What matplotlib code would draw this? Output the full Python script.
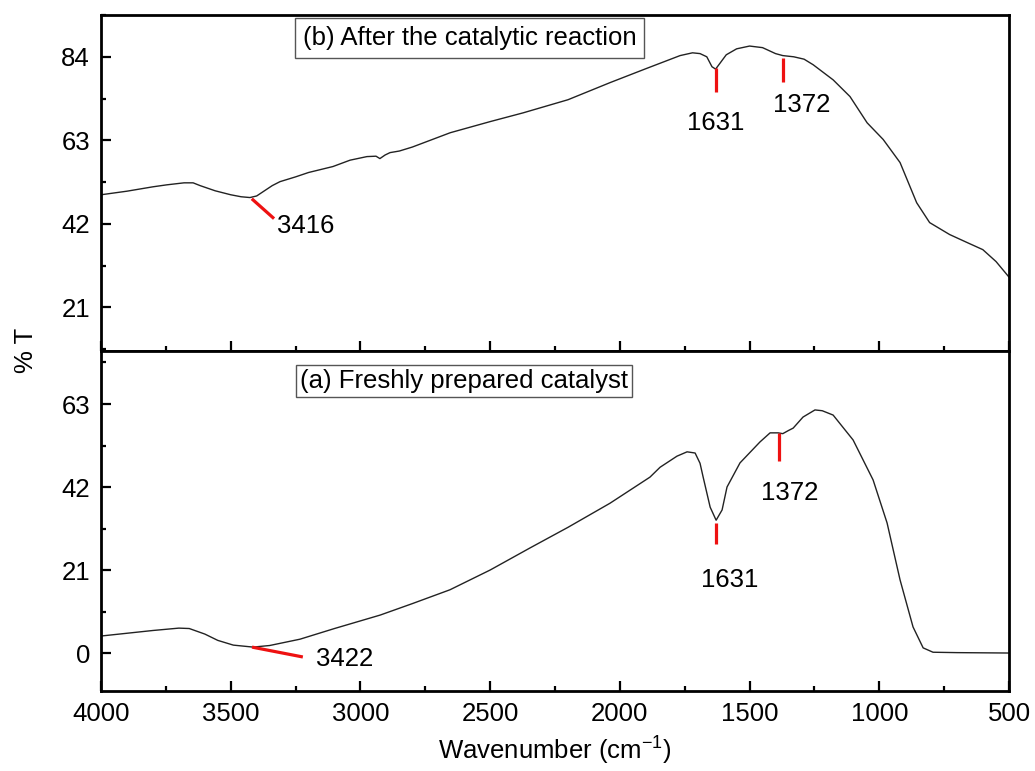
import numpy as np
import matplotlib
matplotlib.use("Agg")
import matplotlib.pyplot as plt
from matplotlib.ticker import MultipleLocator

plt.rcParams['font.family'] = ['Liberation Sans', 'DejaVu Sans']
plt.rcParams['mathtext.fontset'] = 'custom'
plt.rcParams['mathtext.rm'] = 'Liberation Sans'

# (b) after the catalytic reaction
wn_b = [4000, 3900, 3800, 3746, 3680, 3645, 3618, 3560, 3500, 3460, 3426, 3400,
        3370, 3340, 3310, 3250, 3200, 3106, 3040, 2975, 2940, 2925, 2905, 2886,
        2850, 2800, 2654, 2500, 2373, 2200, 2038, 1900, 1768, 1720, 1691, 1665,
        1645, 1631, 1615, 1590, 1550, 1500, 1450, 1400, 1372, 1330, 1290, 1255,
        1178, 1113, 1047, 985, 920, 856, 806, 729, 662, 601, 550, 504, 500]
T_b = [49.3, 50.2, 51.3, 51.8, 52.3, 52.3, 51.6, 50.3, 49.3, 48.8, 48.6, 49.0,
       50.3, 51.6, 52.6, 53.8, 54.9, 56.4, 58.0, 58.9, 59.0, 58.4, 59.3, 59.9,
       60.3, 61.3, 64.9, 67.7, 69.9, 73.2, 77.5, 81.0, 84.3, 85.0, 84.8, 84.0,
       81.5, 80.9, 82.3, 84.5, 86.0, 86.7, 86.3, 84.8, 84.3, 84.0, 83.4, 82.0,
       78.2, 74.0, 67.4, 63.2, 57.4, 47.3, 42.3, 39.3, 37.3, 35.5, 32.5, 28.9, 28.6]

# (a) freshly prepared catalyst
wn_a = [4000, 3900, 3800, 3700, 3660, 3600, 3550, 3490, 3414, 3350, 3233, 3100,
        2924, 2800, 2655, 2500, 2346, 2200, 2038, 1884, 1845, 1780, 1741, 1710,
        1691, 1679, 1652, 1629, 1606, 1587, 1537, 1460, 1421, 1390, 1372, 1350,
        1332, 1294, 1248, 1220, 1178, 1101, 1024, 970, 920, 870, 831, 793, 700, 500]
T_a = [4.3, 5.0, 5.7, 6.3, 6.2, 4.8, 3.2, 2.0, 1.5, 1.9, 3.5, 6.2,
       9.6, 12.5, 16.0, 21.0, 26.6, 31.8, 37.9, 44.5, 47.0, 49.8, 50.9, 50.6,
       48.0, 44.5, 36.9, 33.6, 36.2, 42.0, 48.1, 53.4, 55.7, 55.7, 55.5, 56.3,
       56.9, 59.7, 61.5, 61.3, 60.2, 53.9, 43.8, 32.9, 18.5, 6.6, 1.3, 0.2, 0.1, 0.0]

# band markers: (x0, y0, x1, y1) and label (x, y, text, ha)
marks_b = [(3419, 48.3, 3333, 43.3), (1631, 81.2, 1631, 75.1), (1372, 83.7, 1372, 77.6)]
labels_b = [(3322, 41.5, "3416", "left"), (1631, 67.4, "1631", "center"),
            (1298, 72.0, "1372", "center")]
marks_a = [(3418, 1.5, 3222, -1.0), (1631, 32.9, 1631, 27.6), (1386, 55.7, 1386, 48.6)]
labels_a = [(3171, -1.5, "3422", "left"), (1577, 18.5, "1631", "center"),
            (1346, 40.5, "1372", "center")]

fig = plt.figure(figsize=(10.35, 7.71), dpi=100)
ax_b = fig.add_axes([0.0976, 0.5447, 0.8773, 0.4358])
ax_a = fig.add_axes([0.0976, 0.1038, 0.8773, 0.4409])

fs = 18.5
for ax in (ax_b, ax_a):
    ax.set_xlim(4000, 500)
    ax.xaxis.set_major_locator(MultipleLocator(500))
    ax.xaxis.set_minor_locator(MultipleLocator(250))
    ax.yaxis.set_major_locator(MultipleLocator(21))
    ax.yaxis.set_minor_locator(MultipleLocator(10.5))
    ax.tick_params(which='both', direction='in', top=False, right=False,
                   width=1.6, labelsize=fs, pad=8)
    ax.tick_params(which='major', length=7)
    ax.tick_params(which='minor', length=3.5)
    for s in ax.spines.values():
        s.set_linewidth(2.0)

ax_b.set_ylim(10.0, 94.5)
ax_a.set_ylim(-9.6, 76.4)
ax_b.tick_params(labelbottom=False)

ax_b.plot(wn_b, T_b, color='#222222', lw=1.0)
ax_a.plot(wn_a, T_a, color='#222222', lw=1.0)

for ax, marks, labels in ((ax_b, marks_b, labels_b), (ax_a, marks_a, labels_a)):
    for x0, y0, x1, y1 in marks:
        ax.plot([x0, x1], [y0, y1], color='#ee1111', lw=2.3, solid_capstyle='butt')
    for x, y, t, ha in labels:
        ax.text(x, y, t, ha=ha, va='center', fontsize=fs)

ax_b.text(0.2225, 0.932, "(b) After the catalytic reaction", transform=ax_b.transAxes,
          fontsize=fs, va='center', ha='left', zorder=1,
          bbox=dict(boxstyle='square,pad=0.3', facecolor='white',
                    edgecolor='#555555', lw=1.0))
ax_a.text(0.219, 0.912, "(a) Freshly prepared catalyst", transform=ax_a.transAxes,
          fontsize=fs, va='center', ha='left',
          bbox=dict(boxstyle='square,pad=0.15', facecolor='white',
                    edgecolor='#555555', lw=1.0))

ax_a.set_xlabel(r"Wavenumber (cm$^{\mathregular{-1}}$)", fontsize=fs, labelpad=5)
fig.text(0.025, 0.545, "% T", rotation=90, fontsize=fs, ha='center', va='center')

fig.savefig("out.png", dpi=100)
